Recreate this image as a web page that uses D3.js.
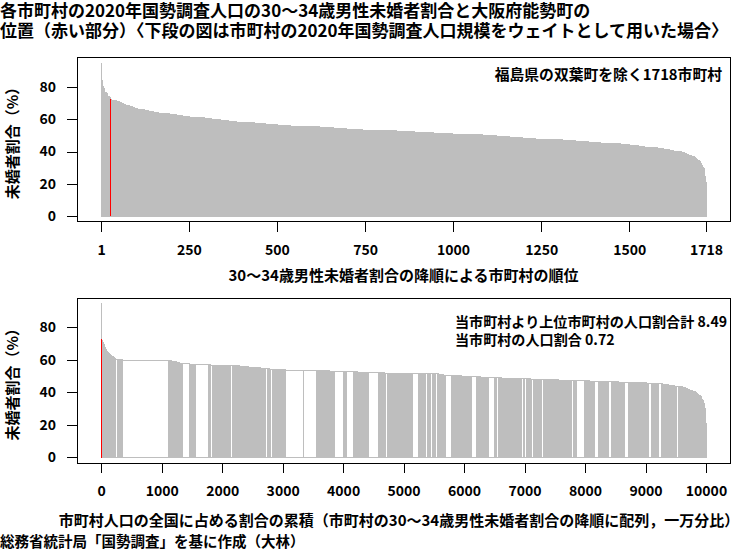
<!DOCTYPE html>
<html><head><meta charset="utf-8">
<script src="https://cdn.jsdelivr.net/npm/d3@7"></script>
<style>
body{margin:0;background:#fff}
text{font-family:"Noto Sans CJK JP","Noto Sans CJK SC",sans-serif;font-weight:bold;fill:#000}
</style>
</head><body>
<svg id="c" width="750" height="550"></svg>
<script>
// ---- data ----
// unmarried rate of men aged 30-34 (%), sorted descending, as a frequency table
const rateValue = [94.6,83.7,80.2,78.8,76.2,75.7,74.2,73.2,72.4,72.2,71.7,71.2,70.7,70.2,69.7,69.2,68.7,68.2,67.7,67.2,66.7,66.2,65.7,65.2,64.7,64.2,63.7,63.2,62.7,62.2,61.7,61.2,60.7,60.2,59.7,59.2,58.7,58.2,57.7,57.2,56.7,56.2,55.7,55.2,54.7,54.2,53.7,53.2,52.7,52.2,51.7,51.2,50.7,50.2,49.7,49.2,48.7,48.2,47.7,47.2,46.7,46.2,45.7,45.2,44.7,44.2,43.7,43.2,42.7,42.2,41.7,41.2,40.7,40.2,39.7,39.2,38.7,38.2,37.7,37.2,36.7,36.2,35.7,35.2,34.7,34.2,33.7,33.2,32.7,32.2,31.7,31.2,30.7,30.2,29.7,28.7,27.2,24.7,23.2,22.2,20.7];
const rateCount = [1,2,3,3,6,3,6,2,1,3,8,7,7,7,6,5,6,6,7,7,8,10,9,13,13,13,15,18,18,19,20,19,22,22,23,24,23,25,27,30,34,38,40,40,40,39,43,47,50,52,54,54,46,40,38,37,37,37,38,38,38,37,35,30,27,25,24,19,18,17,17,18,12,12,11,8,6,6,6,6,4,3,3,3,3,3,2,1,1,1,1,1,1,2,2,1,1,1,1,1,1];
// Nose town (Osaka) rank
const targetRank = 27;
// larger municipalities in rank order: rank, cumulative share before it, own share (per 10000)
const bigRank  = [27, 294, 318, 437, 452, 472, 512, 588, 640, 665, 745, 746, 805, 830, 865, 900, 960, 975, 985, 995, 1060, 1075, 1115, 1140, 1150, 1200, 1215, 1225, 1236, 1250, 1290, 1300, 1320, 1335, 1360, 1425, 1445, 1510];
const bigStart = [8.49, 240, 360, 1347, 1567, 1815, 2146, 2465, 2719, 2801, 3049, 3352, 3865, 4057, 4416, 4708, 5145, 5363, 5446, 5528, 5695, 5886, 6123, 6410, 6537, 6812, 6950, 7005, 7115, 7280, 7776, 7859, 8162, 8382, 8658, 9044, 9209, 9512];
const bigShare = [0.72, 33, 761, 121, 209, 26, 33, 25, 25, 25, 303, 200, 137, 122, 176, 26, 105, 30, 27, 40, 98, 28, 83, 100, 38, 28, 25, 27, 33, 39, 28, 138, 55, 55, 55, 55, 55, 28];
const totalShare = 10000;
const topXTicks = [1, 250, 500, 750, 1000, 1250, 1500, 1718];
const yTicks = [0, 20, 40, 60, 80];
const bottomXTicks = [0, 1000, 2000, 3000, 4000, 5000, 6000, 7000, 8000, 9000, 10000];
const titleLines = ["各市町村の2020年国勢調査人口の30～34歳男性未婚者割合と大阪府能勢町の",
  "位置（赤い部分）〈下段の図は市町村の2020年国勢調査人口規模をウェイトとして用いた場合〉"];
const yLabel = "未婚者割合（%）";
const topXLabel = "30～34歳男性未婚者割合の降順による市町村の順位";
const bottomXLabel = "市町村人口の全国に占める割合の累積（市町村の30～34歳男性未婚者割合の降順に配列，一万分比）";
const topNote = "福島県の双葉町を除く1718市町村";
const bottomNotes = ["当市町村より上位市町村の人口割合計 8.49", "当市町村の人口割合 0.72"];
const sourceText = "総務省統計局「国勢調査」を基に作成（大林）";

// ---- build per-municipality arrays ----
const rates = [];
rateValue.forEach((v, i) => { for (let k = 0; k < rateCount[i]; k++) rates.push(v); });
const N = rates.length;
const share = new Array(N).fill(0);
let prevRank = 0, prevEnd = 0;
for (let k = 0; k <= bigRank.length; k++) {
  const r = k < bigRank.length ? bigRank[k] : N + 1;
  const s = k < bigRank.length ? bigStart[k] : totalShare;
  const cnt = r - prevRank - 1;
  for (let j = prevRank + 1; j < r; j++) share[j - 1] = (s - prevEnd) / cnt;
  if (k < bigRank.length) { share[r - 1] = bigShare[k]; prevRank = r; prevEnd = s + bigShare[k]; }
}
const cumStart = []; let acc = 0;
share.forEach(s => { cumStart.push(acc); acc += s; });

const svg = d3.select("#c");
const GRAY = "#bebebe";
const box = {l: 77, r: 730};
const pTop = {t: 57.3, b: 221.7};
const pBot = {t: 298.6, b: 463};

// ---- top panel ----
const xT = d3.scaleLinear().domain([1, N]).range([101.2, 706]);
const yT = d3.scaleLinear().domain([0, 80]).range([216.3, 86.7]);
const bw = xT(2) - xT(1);
const gT = svg.append("g").attr("shape-rendering", "crispEdges");
gT.selectAll("rect.b").data(rates).join("rect").attr("class", "b")
  .attr("x", (d, i) => xT(i + 1) - bw / 2).attr("width", bw)
  .attr("y", d => yT(d)).attr("height", d => yT(0) - yT(d))
  .attr("fill", GRAY).attr("stroke", GRAY).attr("stroke-width", 1);
gT.append("rect").attr("x", xT(targetRank) - 0.5).attr("width", 1)
  .attr("y", yT(rates[targetRank - 1])).attr("height", yT(0) - yT(rates[targetRank - 1]))
  .attr("fill", "#ff0000");

// ---- bottom panel ----
const xB = d3.scaleLinear().domain([0, totalShare]).range([101.2, 706]);
const yB = d3.scaleLinear().domain([0, 80]).range([457, 327.3]);
const gB = svg.append("g").attr("shape-rendering", "crispEdges");
gB.selectAll("rect.b").data(rates).join("rect").attr("class", "b")
  .attr("x", (d, i) => xB(cumStart[i])).attr("width", (d, i) => Math.max(0, xB(cumStart[i] + share[i]) - xB(cumStart[i])))
  .attr("y", d => yB(d)).attr("height", d => yB(0) - yB(d))
  .attr("fill", "none").attr("stroke", GRAY).attr("stroke-width", 1);
gB.append("rect").attr("x", xB(cumStart[targetRank - 1]))
  .attr("width", xB(cumStart[targetRank - 1] + share[targetRank - 1]) - xB(cumStart[targetRank - 1]))
  .attr("y", yB(rates[targetRank - 1])).attr("height", yB(0) - yB(rates[targetRank - 1]))
  .attr("fill", "none").attr("stroke", "#ff0000").attr("stroke-width", 1);

// ---- boxes & axes ----
function frame(p) {
  svg.append("rect").attr("x", box.l).attr("y", p.t).attr("width", box.r - box.l).attr("height", p.b - p.t)
    .attr("fill", "none").attr("stroke", "#000").attr("stroke-width", 1).attr("shape-rendering", "crispEdges");
}
frame(pTop); frame(pBot);
function styleAxis(g) {
  g.select(".domain").remove();
  g.selectAll("line").attr("stroke", "#000").attr("shape-rendering", "crispEdges");
  g.selectAll("text").attr("font-family", null).attr("font-size", 14).attr("fill", "#000");
}
svg.append("g").attr("transform", `translate(0,${pTop.b})`)
  .call(d3.axisBottom(xT).tickValues(topXTicks).tickSize(10).tickPadding(13).tickFormat(d3.format("d"))).call(styleAxis);
svg.append("g").attr("transform", `translate(${box.l},0)`)
  .call(d3.axisLeft(yT).tickValues(yTicks).tickSize(10).tickPadding(11)).call(styleAxis);
svg.append("g").attr("transform", `translate(0,${pBot.b})`)
  .call(d3.axisBottom(xB).tickValues(bottomXTicks).tickSize(10).tickPadding(13).tickFormat(d3.format("d"))).call(styleAxis);
svg.append("g").attr("transform", `translate(${box.l},0)`)
  .call(d3.axisLeft(yB).tickValues(yTicks).tickSize(10).tickPadding(11)).call(styleAxis);

// ---- texts ----
svg.append("text").attr("x", 0).attr("y", 17).attr("font-size", 17).text(titleLines[0]);
svg.append("text").attr("x", 0).attr("y", 37).attr("font-size", 17).text(titleLines[1]);
[pTop, pBot].forEach(p => {
  svg.append("text").attr("transform", `translate(18,${(p.t + p.b) / 2}) rotate(-90)`)
    .attr("text-anchor", "middle").attr("font-size", 15).text(yLabel);
});
svg.append("text").attr("x", (box.l + box.r) / 2).attr("y", 281).attr("text-anchor", "middle").attr("font-size", 15).text(topXLabel);
svg.append("text").attr("x", 399).attr("y", 526).attr("text-anchor", "middle").attr("font-size", 15).text(bottomXLabel);
svg.append("text").attr("x", 722).attr("y", 80).attr("text-anchor", "end").attr("font-size", 14.8).text(topNote);
svg.append("text").attr("x", 455).attr("y", 327).attr("font-size", 14.1).text(bottomNotes[0]);
svg.append("text").attr("x", 455).attr("y", 345).attr("font-size", 14.1).text(bottomNotes[1]);
svg.append("text").attr("x", 0).attr("y", 547).attr("font-size", 14.5).text(sourceText);
</script>
</body></html>
